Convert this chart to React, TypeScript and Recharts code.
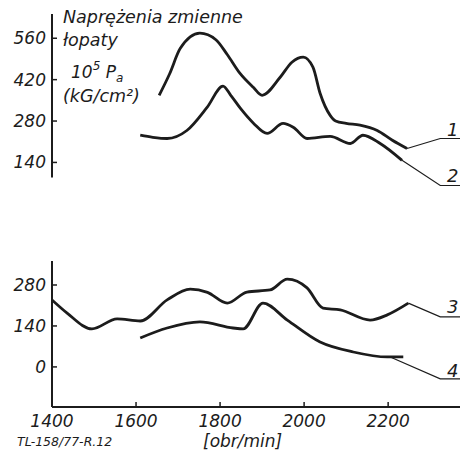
import { LineChart, Line, XAxis, YAxis, ReferenceLine } from 'recharts';

// rpm range shared by both panels
const xDomain = [1400, 2371];
const xTicks = [1400, 1600, 1800, 2000, 2200];
const topTicks = [140, 280, 420, 560];
const bottomTicks = [0, 140, 280];

// upper panel: curves 1 and 2
const curve1 = [
  { rpm: 1655, v: 367 }, { rpm: 1680, v: 440 }, { rpm: 1705, v: 525 }, { rpm: 1752, v: 577 },
  { rpm: 1790, v: 555 }, { rpm: 1817, v: 505 }, { rpm: 1848, v: 440 }, { rpm: 1879, v: 394 },
  { rpm: 1900, v: 367 }, { rpm: 1943, v: 428 }, { rpm: 1971, v: 479 }, { rpm: 1998, v: 496 },
  { rpm: 2021, v: 462 }, { rpm: 2038, v: 374 }, { rpm: 2062, v: 299 }, { rpm: 2075, v: 280 },
  { rpm: 2100, v: 272 }, { rpm: 2133, v: 266 }, { rpm: 2174, v: 248 }, { rpm: 2210, v: 215 },
  { rpm: 2245, v: 187 },
];
const curve2 = [
  { rpm: 1610, v: 232 }, { rpm: 1640, v: 225 }, { rpm: 1674, v: 221 }, { rpm: 1721, v: 248 },
  { rpm: 1769, v: 326 }, { rpm: 1807, v: 398 }, { rpm: 1825, v: 368 }, { rpm: 1850, v: 320 },
  { rpm: 1880, v: 272 }, { rpm: 1912, v: 238 }, { rpm: 1950, v: 272 }, { rpm: 1975, v: 258 },
  { rpm: 2007, v: 221 }, { rpm: 2062, v: 228 }, { rpm: 2110, v: 204 }, { rpm: 2140, v: 232 },
  { rpm: 2181, v: 204 }, { rpm: 2233, v: 147 },
];
const leader1 = [{ rpm: 2245, v: 187 }, { rpm: 2324, v: 221 }, { rpm: 2371, v: 221 }];
const leader2 = [{ rpm: 2233, v: 147 }, { rpm: 2324, v: 62 }, { rpm: 2371, v: 62 }];

// lower panel: curves 3 and 4
const curve3 = [
  { rpm: 1400, v: 229 }, { rpm: 1436, v: 184 }, { rpm: 1495, v: 130 }, { rpm: 1555, v: 164 },
  { rpm: 1610, v: 157 }, { rpm: 1674, v: 229 }, { rpm: 1729, v: 266 }, { rpm: 1770, v: 255 },
  { rpm: 1817, v: 218 }, { rpm: 1864, v: 256 }, { rpm: 1919, v: 263 }, { rpm: 1960, v: 300 },
  { rpm: 2007, v: 270 }, { rpm: 2045, v: 201 }, { rpm: 2086, v: 195 }, { rpm: 2157, v: 160 },
  { rpm: 2198, v: 178 }, { rpm: 2248, v: 218 },
];
const curve4 = [
  { rpm: 1610, v: 99 }, { rpm: 1674, v: 133 }, { rpm: 1752, v: 154 }, { rpm: 1831, v: 133 },
  { rpm: 1855, v: 130 }, { rpm: 1902, v: 218 }, { rpm: 1960, v: 160 }, { rpm: 2038, v: 85 },
  { rpm: 2117, v: 51 }, { rpm: 2198, v: 34 }, { rpm: 2236, v: 34 },
];
const leader3 = [{ rpm: 2248, v: 218 }, { rpm: 2324, v: 171 }, { rpm: 2371, v: 171 }];
const leader4 = [{ rpm: 2205, v: 34 }, { rpm: 2324, v: -41 }, { rpm: 2371, v: -41 }];

const ink = '#1c1c1c';
const font = '"DejaVu Sans", sans-serif';

const YTick = ({ x, y, payload }: any) => (
  <g>
    <line x1={x} x2={x + 5} y1={y} y2={y} stroke={ink} strokeWidth={1.5} />
    <text x={x - 6} y={y + 6} textAnchor="end" fontSize={17} fontStyle="italic" fontFamily={font} fill={ink}>
      {payload.value}
    </text>
  </g>
);

const XTick = ({ x, y, payload }: any) => (
  <g>
    <line x1={x} x2={x} y1={y} y2={y - 5} stroke={ink} strokeWidth={1.5} />
    <text x={x} y={y + 20} textAnchor="middle" fontSize={17} fontStyle="italic" fontFamily={font} fill={ink}>
      {payload.value}
    </text>
  </g>
);

const curveProps = {
  dataKey: 'v',
  type: 'monotone' as const,
  stroke: ink,
  strokeWidth: 2.8,
  dot: false,
  isAnimationActive: false,
};
const leaderProps = {
  dataKey: 'v',
  type: 'linear' as const,
  stroke: ink,
  strokeWidth: 1.2,
  dot: false,
  isAnimationActive: false,
};

const label = (text: string, left: number, top: number, size = 18) => (
  <div
    style={{
      position: 'absolute', left, top, fontSize: size, fontStyle: 'italic',
      fontFamily: font, color: ink, lineHeight: 1, whiteSpace: 'nowrap',
    }}
  >
    {text}
  </div>
);

export default function App() {
  return (
    <div style={{ position: 'absolute', left: 0, top: 0, width: 473, height: 454, background: '#fff', overflow: 'hidden' }}>
      <div style={{ position: 'absolute', left: 0, top: 0 }}>
        <LineChart width={473} height={200} margin={{ top: 14, right: 13, bottom: 8, left: 0 }}>
          <XAxis type="number" dataKey="rpm" domain={xDomain} hide allowDataOverflow />
          <YAxis type="number" domain={[40, 642]} ticks={topTicks} width={52} axisLine={false}
            tickLine={false} tickSize={0} tickMargin={0} tick={<YTick />} allowDataOverflow />
          <ReferenceLine segment={[{ x: 1400, y: 89 }, { x: 1400, y: 642 }]} stroke={ink} strokeWidth={2} />
          <Line data={curve1} {...curveProps} />
          <Line data={curve2} {...curveProps} />
          <Line data={leader1} {...leaderProps} />
          <Line data={leader2} {...leaderProps} />
        </LineChart>
      </div>
      <div style={{ position: 'absolute', left: 0, top: 240 }}>
        <LineChart width={473} height={214} margin={{ top: 21, right: 13, bottom: 0, left: 0 }}>
          <XAxis type="number" dataKey="rpm" domain={xDomain} ticks={xTicks} height={47}
            axisLine={{ stroke: ink, strokeWidth: 2 }} tickLine={false} tickSize={0} tickMargin={0}
            tick={<XTick />} allowDataOverflow />
          <YAxis type="number" domain={[-137, 362]} ticks={bottomTicks} width={52}
            axisLine={{ stroke: ink, strokeWidth: 2 }} tickLine={false} tickSize={0} tickMargin={0}
            tick={<YTick />} allowDataOverflow />
          <Line data={curve3} {...curveProps} />
          <Line data={curve4} {...curveProps} />
          <Line data={leader3} {...leaderProps} />
          <Line data={leader4} {...leaderProps} />
        </LineChart>
      </div>

      {label('Naprężenia zmienne', 63, 9, 17.5)}
      {label('łopaty', 63, 32, 17.5)}
      <div style={{ position: 'absolute', left: 71, top: 64, fontSize: 17, fontStyle: 'italic', fontFamily: font, color: ink, lineHeight: 1, whiteSpace: 'nowrap' }}>
        10<span style={{ fontSize: 12, position: 'relative', top: -8 }}>5</span>
        {' '}P<span style={{ fontSize: 12, position: 'relative', top: 4 }}>a</span>
      </div>
      {label('(kG/cm²)', 63, 88, 17.5)}

      {label('1', 447, 121)}
      {label('2', 447, 167)}
      {label('3', 447, 298)}
      {label('4', 447, 362)}

      {label('[obr/min]', 203, 433, 17)}
      {label('TL-158/77-R.12', 17, 436, 12.5)}
    </div>
  );
}
